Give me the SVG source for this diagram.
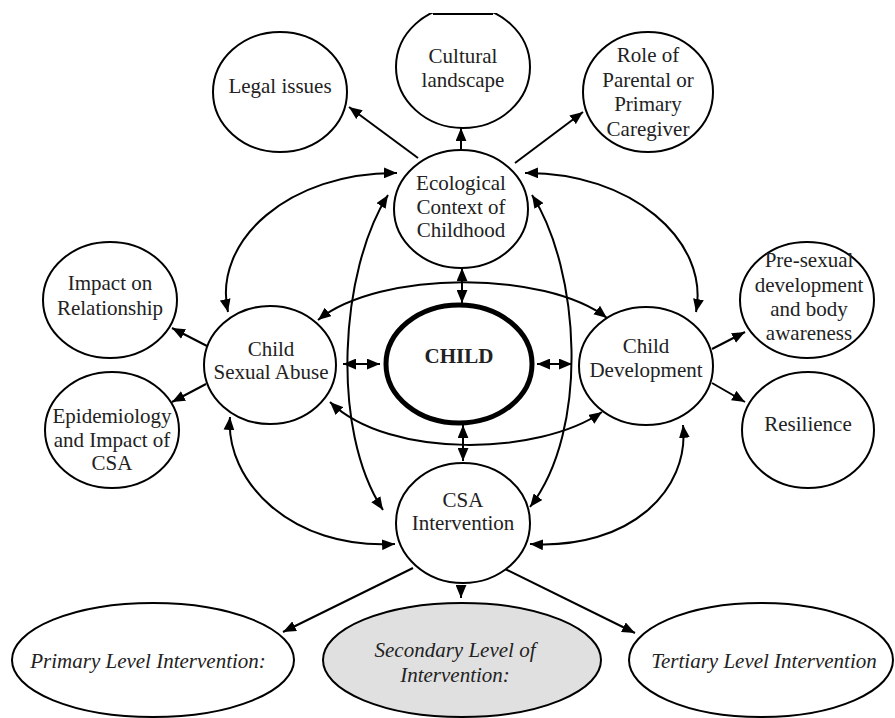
<svg xmlns="http://www.w3.org/2000/svg" width="895" height="718" viewBox="0 0 895 718">
<style>
.n{fill:#fff;stroke:#000;stroke-width:2}
text{font-family:'Liberation Serif','DejaVu Serif',serif;font-size:21px;fill:#222;text-anchor:middle}
.i{font-style:italic}
.c{fill:none;stroke:#000;stroke-width:2}
</style>
<defs>
<marker id="ah" viewBox="0 0 12 10" refX="12" refY="5" markerWidth="13" markerHeight="11" markerUnits="userSpaceOnUse" orient="auto-start-reverse"><path d="M0,0 L12,5 L0,10 z" fill="#000"/></marker>
<clipPath id="clipTop"><rect x="0" y="13" width="895" height="705"/></clipPath>
</defs>
<rect width="895" height="718" fill="#fff"/>
<g id="connectors">
<path class="c" d="M418,158 L349,107" marker-end="url(#ah)"/>
<path class="c" d="M461,150 L461,128" marker-end="url(#ah)"/>
<path class="c" d="M515,163 L583,112" marker-end="url(#ah)"/>
<path class="c" d="M207,346 L172,328" marker-end="url(#ah)"/>
<path class="c" d="M206,384 L172,402" marker-end="url(#ah)"/>
<path class="c" d="M343,364 L380,364" marker-start="url(#ah)" marker-end="url(#ah)"/>
<path class="c" d="M537,364 L572,364" marker-start="url(#ah)" marker-end="url(#ah)"/>
<path class="c" d="M462,268 L462,303" marker-start="url(#ah)" marker-end="url(#ah)"/>
<path class="c" d="M463,425 L463,461" marker-start="url(#ah)" marker-end="url(#ah)"/>
<path class="c" d="M712,349 L745,332" marker-end="url(#ah)"/>
<path class="c" d="M712,383 L745,402" marker-end="url(#ah)"/>
<path class="c" d="M413,568 L283,632" marker-end="url(#ah)"/>
<path class="c" d="M461,586 L461,598" marker-end="url(#ah)"/>
<path class="c" d="M505,569 L635,633" marker-end="url(#ah)"/>
<path class="c" d="M228,312 C212,240 290,172 397,173" marker-start="url(#ah)" marker-end="url(#ah)"/>
<path class="c" d="M525,173 C630,172 710,240 696,312" marker-start="url(#ah)" marker-end="url(#ah)"/>
<path class="c" d="M388,195 C340,270 330,430 383,510" marker-start="url(#ah)" marker-end="url(#ah)"/>
<path class="c" d="M532,195 C580,270 590,430 530,507" marker-start="url(#ah)" marker-end="url(#ah)"/>
<path class="c" d="M318,320 C380,270 545,270 607,318" marker-start="url(#ah)" marker-end="url(#ah)"/>
<path class="c" d="M330,402 C390,460 540,455 602,412" marker-start="url(#ah)" marker-end="url(#ah)"/>
<path class="c" d="M230,417 C225,480 290,550 395,544" marker-start="url(#ah)" marker-end="url(#ah)"/>
<path class="c" d="M683,425 C690,490 630,550 530,544" marker-start="url(#ah)" marker-end="url(#ah)"/>
</g>
<g id="legal"><ellipse class="n" cx="280" cy="92" rx="67" ry="60"/><text x="280" y="93">Legal issues</text></g>
<g id="cultural"><ellipse class="n" cx="463" cy="67" rx="67" ry="61" clip-path="url(#clipTop)"/><path d="M433,14 L493,14" stroke="#000" stroke-width="2"/><text x="463" y="63">Cultural</text><text x="463" y="87">landscape</text></g>
<g id="role"><ellipse class="n" cx="648" cy="92" rx="65" ry="60"/><text x="648" y="62">Role of</text><text x="648" y="87">Parental or</text><text x="648" y="111">Primary</text><text x="648" y="136">Caregiver</text></g>
<g id="ecological"><ellipse class="n" cx="461" cy="209" rx="67" ry="59"/><text x="461" y="190">Ecological</text><text x="461" y="214">Context of</text><text x="461" y="237">Childhood</text></g>
<g id="impact"><ellipse class="n" cx="110" cy="300" rx="67" ry="58"/><text x="110" y="290">Impact on</text><text x="110" y="315">Relationship</text></g>
<g id="epidemiology"><ellipse class="n" cx="112" cy="430" rx="67" ry="58"/><text x="112" y="423">Epidemiology</text><text x="112" y="447">and Impact of</text><text x="112" y="470">CSA</text></g>
<g id="csa"><ellipse class="n" cx="270" cy="365" rx="66" ry="59"/><text x="271" y="356">Child</text><text x="271" y="379">Sexual Abuse</text></g>
<g id="child"><ellipse cx="459" cy="364" rx="73" ry="59" fill="#fff" stroke="#000" stroke-width="5"/><text x="459" y="363" font-weight="bold">CHILD</text></g>
<g id="development"><ellipse class="n" cx="646" cy="366" rx="67" ry="59"/><text x="646" y="353">Child</text><text x="646" y="377">Development</text></g>
<g id="presexual"><ellipse class="n" cx="807" cy="300" rx="67" ry="58"/><text x="809" y="267">Pre-sexual</text><text x="809" y="292">development</text><text x="809" y="316">and body</text><text x="809" y="340">awareness</text></g>
<g id="resilience"><ellipse class="n" cx="808" cy="430" rx="66" ry="58"/><text x="808" y="431">Resilience</text></g>
<g id="intervention"><ellipse class="n" cx="463" cy="523" rx="67" ry="60"/><text x="463" y="507">CSA</text><text x="463" y="530">Intervention</text></g>
<g id="primary"><ellipse class="n" cx="153" cy="660" rx="141" ry="57"/><text class="i" x="148" y="668">Primary Level Intervention:</text></g>
<g id="secondary"><ellipse cx="462" cy="660" rx="139" ry="57" fill="#e0e0e0" stroke="#000" stroke-width="2"/><text class="i" x="455" y="657">Secondary Level of</text><text class="i" x="455" y="682">Intervention:</text></g>
<g id="tertiary"><ellipse class="n" cx="761" cy="660" rx="132" ry="57"/><text class="i" x="764" y="668">Tertiary Level Intervention</text></g>
</svg>
